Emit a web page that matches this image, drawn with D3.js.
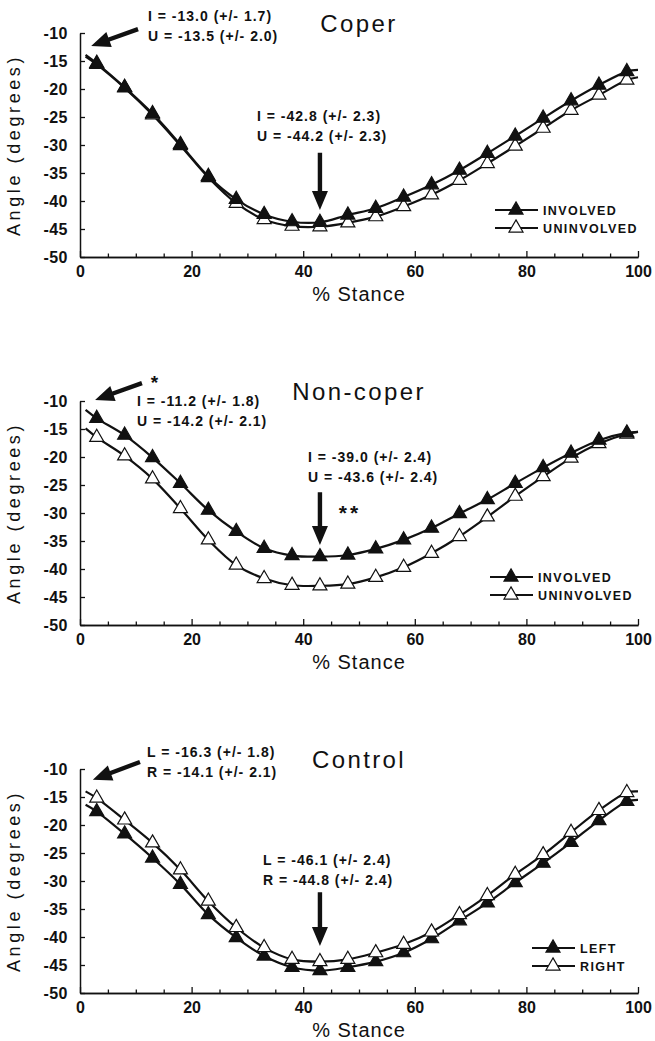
<!DOCTYPE html>
<html>
<head>
<meta charset="utf-8">
<script src="https://cdn.jsdelivr.net/npm/d3@7"></script>
<style>
  body { margin: 0; background: #fff; }
  text { font-family: "Liberation Sans", Arial, sans-serif; fill: #111; }
</style>
</head>
<body>
<svg id="chart" width="655" height="1041"></svg>
<script>
// % stance where markers sit
var stance = [3, 8, 13, 18, 23, 28, 33, 38, 43, 48, 53, 58, 63, 68, 73, 78, 83, 88, 93, 98];
var lineStartX = 1, lineEndX = 100;
var yTicks = [-10, -15, -20, -25, -30, -35, -40, -45, -50];
var xTicks = [0, 20, 40, 60, 80, 100];

// Coper
var coperInvolved   = [-15.4, -19.7, -24.4, -29.9, -35.6, -39.7, -42.4, -43.7, -43.8, -42.5, -41.3, -39.3, -37.1, -34.5, -31.5, -28.4, -25.2, -22.1, -19.3, -16.9];
var coperUninvolved = [-15.6, -19.8, -24.6, -30.1, -35.8, -40.4, -43.3, -44.5, -44.6, -43.9, -42.8, -41.0, -38.9, -36.3, -33.3, -30.2, -27.0, -23.8, -21.1, -18.4];
var coperEnds = {inv: [-13.9, -16.6], uninv: [-14.2, -17.9]};

// Non-coper
var noncoperInvolved   = [-13.1, -16.1, -20.1, -24.7, -29.5, -33.3, -36.3, -37.6, -37.8, -37.5, -36.4, -34.8, -32.7, -30.1, -27.6, -24.7, -21.9, -19.3, -17.0, -15.7];
var noncoperUninvolved = [-16.5, -19.8, -23.9, -29.2, -34.8, -39.3, -41.7, -42.9, -43.0, -42.7, -41.5, -39.7, -37.2, -34.2, -30.7, -27.0, -23.5, -20.2, -17.6, -15.9];
var noncoperEnds = {inv: [-11.6, -15.5], uninv: [-14.9, -15.5]};

// Control
var controlLeft  = [-17.6, -21.6, -25.9, -30.6, -36.0, -40.1, -43.4, -45.4, -46.0, -45.4, -44.4, -42.8, -40.3, -37.1, -33.9, -30.3, -26.8, -23.1, -19.2, -15.8];
var controlRight = [-15.2, -19.1, -23.2, -28.0, -33.6, -38.3, -41.9, -44.0, -44.4, -44.0, -42.8, -41.3, -39.1, -36.0, -32.6, -28.8, -25.3, -21.3, -17.4, -14.2];
var controlEnds = {left: [-16.4, -15.5], right: [-14.0, -14.0]};

var panels = [
  {title: "Coper", top: 33, legendX: 415, legendY: 177,
   series: [
     {name: "UNINVOLVED", vals: coperUninvolved, ends: coperEnds.uninv, filled: false},
     {name: "INVOLVED", vals: coperInvolved, ends: coperEnds.inv, filled: true}],
   legend: ["INVOLVED", "UNINVOLVED"],
   notes: [
     {lines: ["I = -13.0 (+/- 1.7)", "U = -13.5 (+/- 2.0)"], x: 68, y: -12},
     {lines: ["I = -42.8 (+/- 2.3)", "U = -44.2 (+/- 2.3)"], x: 177, y: 88}],
   arrows: [[10.4, -9.3, 2.0, -12.3], [43, -31.4, 43, -41.6]],
   stars: []},
  {title: "Non-coper", top: 401, legendX: 410, legendY: 176,
   series: [
     {name: "UNINVOLVED", vals: noncoperUninvolved, ends: noncoperEnds.uninv, filled: false},
     {name: "INVOLVED", vals: noncoperInvolved, ends: noncoperEnds.inv, filled: true}],
   legend: ["INVOLVED", "UNINVOLVED"],
   notes: [
     {lines: ["I = -11.2 (+/- 1.8)", "U = -14.2 (+/- 2.1)"], x: 57, y: 5},
     {lines: ["I = -39.0 (+/- 2.4)", "U = -43.6 (+/- 2.4)"], x: 228, y: 61}],
   arrows: [[11.1, -6.8, 2.7, -9.8], [43, -26.3, 43, -35.7]],
   stars: [{t: "*", x: 76, y: -12, size: 19}, {t: "**", x: 270, y: 119, size: 21}]},
  {title: "Control", top: 769, legendX: 452, legendY: 179,
   series: [
     {name: "LEFT", vals: controlLeft, ends: controlEnds.left, filled: true},
     {name: "RIGHT", vals: controlRight, ends: controlEnds.right, filled: false}],
   legend: ["LEFT", "RIGHT"],
   notes: [
     {lines: ["L = -16.3 (+/- 1.8)", "R = -14.1 (+/- 2.1)"], x: 67, y: -12},
     {lines: ["L = -46.1 (+/- 2.4)", "R = -44.8 (+/- 2.4)"], x: 183, y: 96}],
   arrows: [[10.75, -8.75, 2.3, -11.9], [43, -32.0, 43, -41.6]],
   stars: []}
];

var svg = d3.select("#chart");
var left = 80, width = 558, height = 224;

var x = d3.scaleLinear().domain([0, 100]).range([0, width]);
var y = d3.scaleLinear().domain([-50, -10]).range([height, 0]);
var tri = d3.symbol().type(d3.symbolTriangle).size(85);

function arrowPath(x1, y1, x2, y2) {
  var dx = x2 - x1, dy = y2 - y1, len = Math.sqrt(dx * dx + dy * dy);
  var ux = dx / len, uy = dy / len, px = -uy, py = ux;
  var hl = 19, hw = 8, sw = 2.2;
  var bx = x2 - ux * hl, by = y2 - uy * hl;
  var pts = [
    [x1 + px * sw, y1 + py * sw], [bx + px * sw, by + py * sw], [bx + px * hw, by + py * hw],
    [x2, y2],
    [bx - px * hw, by - py * hw], [bx - px * sw, by - py * sw], [x1 - px * sw, y1 - py * sw]];
  return "M" + pts.map(function(p) { return p.join(","); }).join("L") + "Z";
}

panels.forEach(function(p) {
  var g = svg.append("g").attr("transform", "translate(" + left + "," + p.top + ")");

  // axes (plain hyphen for negatives, like the original)
  var yAxis = d3.axisLeft(y).tickValues(yTicks).tickSizeInner(-5).tickSizeOuter(0).tickPadding(12)
    .tickFormat(function(d) { return String(d); });
  var yg = g.append("g").call(yAxis);
  yg.selectAll("text").style("font-size", "16px").style("font-weight", "bold").style("letter-spacing", "0.5px");

  var minor = d3.range(0, 101, 5).filter(function(v) { return v % 20 != 0; });
  g.append("g").attr("transform", "translate(0," + height + ")")
    .call(d3.axisBottom(x).tickValues(minor).tickSizeInner(-3.5).tickSizeOuter(0).tickFormat(""));
  var xg = g.append("g").attr("transform", "translate(0," + height + ")")
    .call(d3.axisBottom(x).tickValues(xTicks).tickSizeInner(-6).tickSizeOuter(0).tickPadding(9)
      .tickFormat(function(d) { return String(d); }));
  xg.selectAll("text").style("font-size", "16px").style("font-weight", "bold");
  g.selectAll(".domain").attr("stroke", "#111").attr("stroke-width", 1.5);
  g.selectAll(".tick line").attr("stroke", "#111").attr("stroke-width", 1.3);

  g.append("text")
    .attr("transform", "translate(-60," + (height / 2) + ") rotate(-90)")
    .attr("text-anchor", "middle")
    .style("font-size", "18px").style("letter-spacing", "3.6px")
    .text("Angle (degrees)");
  g.append("text")
    .attr("x", 279).attr("y", height + 44)
    .attr("text-anchor", "middle")
    .style("font-size", "20px").style("letter-spacing", "1px")
    .text("% Stance");

  g.append("text")
    .attr("x", 279).attr("y", -1)
    .attr("text-anchor", "middle")
    .style("font-size", "24px").style("letter-spacing", "2.4px")
    .text(p.title);

  // curves
  var line = d3.line().x(function(d) { return x(d[0]); }).y(function(d) { return y(d[1]); })
    .curve(d3.curveCatmullRom.alpha(0.5));
  p.series.forEach(function(s) {
    var pts = [[lineStartX, s.ends[0]]].concat(stance.map(function(v, i) { return [v, s.vals[i]]; }), [[lineEndX, s.ends[1]]]);
    g.append("path").datum(pts).attr("d", line)
      .attr("fill", "none").attr("stroke", "#111").attr("stroke-width", 2.2);
  });
  p.series.forEach(function(s) {
    g.selectAll(null).data(stance).enter().append("path")
      .attr("d", tri)
      .attr("transform", function(d, i) { return "translate(" + x(d) + "," + y(s.vals[i]) + ")"; })
      .attr("fill", s.filled ? "#111" : "#fff")
      .attr("stroke", "#111").attr("stroke-width", 1.2);
  });

  // legend
  p.legend.forEach(function(name, i) {
    var s = p.series.filter(function(d) { return d.name == name; })[0];
    var ly = p.legendY + i * 18;
    g.append("line").attr("x1", p.legendX).attr("x2", p.legendX + 43)
      .attr("y1", ly).attr("y2", ly).attr("stroke", "#111").attr("stroke-width", 2);
    g.append("path").attr("d", tri)
      .attr("transform", "translate(" + (p.legendX + 21) + "," + ly + ")")
      .attr("fill", s.filled ? "#111" : "#fff").attr("stroke", "#111").attr("stroke-width", 1.2);
    g.append("text").attr("x", p.legendX + 48).attr("y", ly + 5)
      .style("font-size", "12.5px").style("font-weight", "bold").style("letter-spacing", "1.4px")
      .text(name);
  });

  // annotations
  p.notes.forEach(function(n) {
    n.lines.forEach(function(t, i) {
      g.append("text").attr("x", n.x).attr("y", n.y + i * 20)
        .style("font-size", "14px").style("font-weight", "bold").style("letter-spacing", "1px")
        .text(t);
    });
  });
  p.arrows.forEach(function(a) {
    g.append("path").attr("d", arrowPath(x(a[0]), y(a[1]), x(a[2]), y(a[3]))).attr("fill", "#111");
  });
  p.stars.forEach(function(s) {
    g.append("text").attr("x", s.x).attr("y", s.y).attr("text-anchor", "middle")
      .style("font-size", s.size + "px").style("font-weight", "bold").style("letter-spacing", "3px")
      .text(s.t);
  });
});
</script>
</body>
</html>
